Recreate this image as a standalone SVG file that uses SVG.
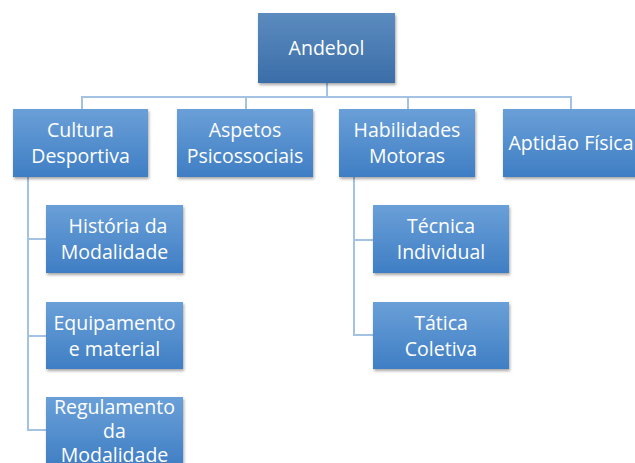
<svg xmlns="http://www.w3.org/2000/svg" width="635" height="463" viewBox="0 0 635 463">
<style>
.box{fill:url(#g2);filter:url(#sh)}
.root{fill:url(#g1);filter:url(#sh)}
.t{font-family:"Open Sans","Noto Sans",sans-serif;font-size:19.5px;fill:#ffffff;text-anchor:middle}
.c{fill:none;stroke:#a3c2e4;stroke-width:2}
</style>
<defs>
<linearGradient id="g1" x1="0" y1="0" x2="0" y2="1"><stop offset="0" stop-color="#5b8bbf"/><stop offset="1" stop-color="#3b6ea8"/></linearGradient>
<linearGradient id="g2" x1="0" y1="0" x2="0" y2="1"><stop offset="0" stop-color="#6aa0d8"/><stop offset="1" stop-color="#3f7ec4"/></linearGradient>
<filter id="sh" x="-10%" y="-10%" width="130%" height="130%"><feDropShadow dx="1" dy="2" stdDeviation="1.5" flood-color="#000" flood-opacity="0.35"/></filter>
</defs>
<g id="connectors">
<path class="c" d="M327 83V97M82 109V97H571V109M246 97V109M408 97V109"/>
<path class="c" d="M28 177V430H46M28 239H46M28 336H46"/>
<path class="c" d="M354 177V335H373M354 240H373"/>
</g>
<g id="andebol"><rect class="root" x="258" y="13" width="137" height="70"/><text class="t" x="326.5" y="55">Andebol</text></g>
<g id="cultura"><rect class="box" x="13" y="109" width="135" height="68"/><text class="t" x="80.5" y="137">Cultura</text><text class="t" x="80.5" y="163">Desportiva</text></g>
<g id="aspetos"><rect class="box" x="177" y="109" width="136" height="68"/><text class="t" x="245" y="137">Aspetos</text><text class="t" x="245" y="163">Psicossociais</text></g>
<g id="habilidades"><rect class="box" x="339" y="109" width="136" height="68"/><text class="t" x="407" y="137">Habilidades</text><text class="t" x="407" y="163">Motoras</text></g>
<g id="aptidao"><rect class="box" x="503" y="109" width="136" height="68"/><text class="t" x="571" y="150">Aptidão Física</text></g>
<g id="historia"><rect class="box" x="46" y="205" width="137" height="68"/><text class="t" x="118" y="233">História da</text><text class="t" x="114.5" y="259">Modalidade</text></g>
<g id="equipamento"><rect class="box" x="46" y="302" width="137" height="67"/><text class="t" x="114.5" y="330">Equipamento</text><text class="t" x="114.5" y="356">e material</text></g>
<g id="regulamento"><rect class="box" x="46" y="397" width="137" height="70"/><text class="t" x="114.5" y="414">Regulamento</text><text class="t" x="114.5" y="438">da</text><text class="t" x="114.5" y="462">Modalidade</text></g>
<g id="tecnica"><rect class="box" x="373" y="205" width="136" height="68"/><text class="t" x="441" y="233">Técnica</text><text class="t" x="441" y="259">Individual</text></g>
<g id="tatica"><rect class="box" x="373" y="302" width="136" height="67"/><text class="t" x="441" y="330">Tática</text><text class="t" x="441" y="356">Coletiva</text></g>
</svg>
